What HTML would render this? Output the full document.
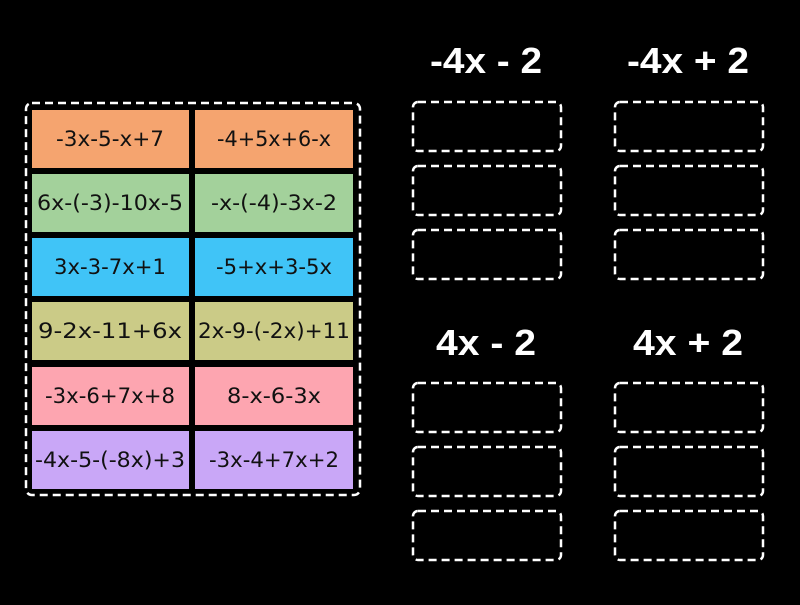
<!DOCTYPE html><html><head><style>body{margin:0;background:#000;width:800px;height:600px;overflow:hidden}</style></head><body>
<svg width="800" height="600" xmlns="http://www.w3.org/2000/svg" font-family="DejaVu Sans, Liberation Sans, sans-serif">
<rect width="800" height="600" fill="#000"/>
<rect x="26" y="103" width="334" height="392" rx="6" fill="none" stroke="#fff" stroke-width="2.5" stroke-dasharray="8,5"/>
<g font-size="21" text-anchor="middle" fill="#111">
<rect x="32" y="110" width="157" height="58" fill="#f5a46f"/><rect x="195" y="110" width="158" height="58" fill="#f5a46f"/>
<text x="110" y="146" textLength="108" lengthAdjust="spacingAndGlyphs">-3x-5-x+7</text><text x="274" y="146" textLength="114" lengthAdjust="spacingAndGlyphs">-4+5x+6-x</text>
<rect x="32" y="174" width="157" height="58" fill="#a3d19b"/><rect x="195" y="174" width="158" height="58" fill="#a3d19b"/>
<text x="110" y="210" textLength="146" lengthAdjust="spacingAndGlyphs">6x-(-3)-10x-5</text><text x="274" y="210" textLength="126" lengthAdjust="spacingAndGlyphs">-x-(-4)-3x-2</text>
<rect x="32" y="238" width="157" height="58" fill="#40c4f7"/><rect x="195" y="238" width="158" height="58" fill="#40c4f7"/>
<text x="110" y="274" textLength="112" lengthAdjust="spacingAndGlyphs">3x-3-7x+1</text><text x="274" y="274" textLength="116" lengthAdjust="spacingAndGlyphs">-5+x+3-5x</text>
<rect x="32" y="302" width="157" height="58" fill="#cbcb87"/><rect x="195" y="302" width="158" height="58" fill="#cbcb87"/>
<text x="110" y="338" textLength="144" lengthAdjust="spacingAndGlyphs">9-2x-11+6x</text><text x="274" y="338" textLength="152" lengthAdjust="spacingAndGlyphs">2x-9-(-2x)+11</text>
<rect x="32" y="367" width="157" height="58" fill="#fda5b0"/><rect x="195" y="367" width="158" height="58" fill="#fda5b0"/>
<text x="110" y="403" textLength="130" lengthAdjust="spacingAndGlyphs">-3x-6+7x+8</text><text x="274" y="403" textLength="94" lengthAdjust="spacingAndGlyphs">8-x-6-3x</text>
<rect x="32" y="431" width="157" height="58" fill="#c9a7f7"/><rect x="195" y="431" width="158" height="58" fill="#c9a7f7"/>
<text x="110" y="467" textLength="150" lengthAdjust="spacingAndGlyphs">-4x-5-(-8x)+3</text><text x="274" y="467" textLength="130" lengthAdjust="spacingAndGlyphs">-3x-4+7x+2</text>
</g>
<g font-size="36" font-weight="bold" fill="#fff" text-anchor="middle" font-family="Liberation Sans, sans-serif">
<text x="486" y="73" textLength="112" lengthAdjust="spacingAndGlyphs">-4x - 2</text><text x="688" y="73" textLength="122" lengthAdjust="spacingAndGlyphs">-4x + 2</text>
<text x="486" y="355" textLength="100" lengthAdjust="spacingAndGlyphs">4x - 2</text><text x="688" y="355" textLength="110" lengthAdjust="spacingAndGlyphs">4x + 2</text>
</g>
<g fill="none" stroke="#fff" stroke-width="2.5" stroke-dasharray="8,5">
<rect x="413" y="102" width="148" height="49" rx="5"/><rect x="413" y="166" width="148" height="49" rx="5"/><rect x="413" y="230" width="148" height="49" rx="5"/>
<rect x="615" y="102" width="148" height="49" rx="5"/><rect x="615" y="166" width="148" height="49" rx="5"/><rect x="615" y="230" width="148" height="49" rx="5"/>
<rect x="413" y="383" width="148" height="49" rx="5"/><rect x="413" y="447" width="148" height="49" rx="5"/><rect x="413" y="511" width="148" height="49" rx="5"/>
<rect x="615" y="383" width="148" height="49" rx="5"/><rect x="615" y="447" width="148" height="49" rx="5"/><rect x="615" y="511" width="148" height="49" rx="5"/>
</g>
</svg></body></html>
